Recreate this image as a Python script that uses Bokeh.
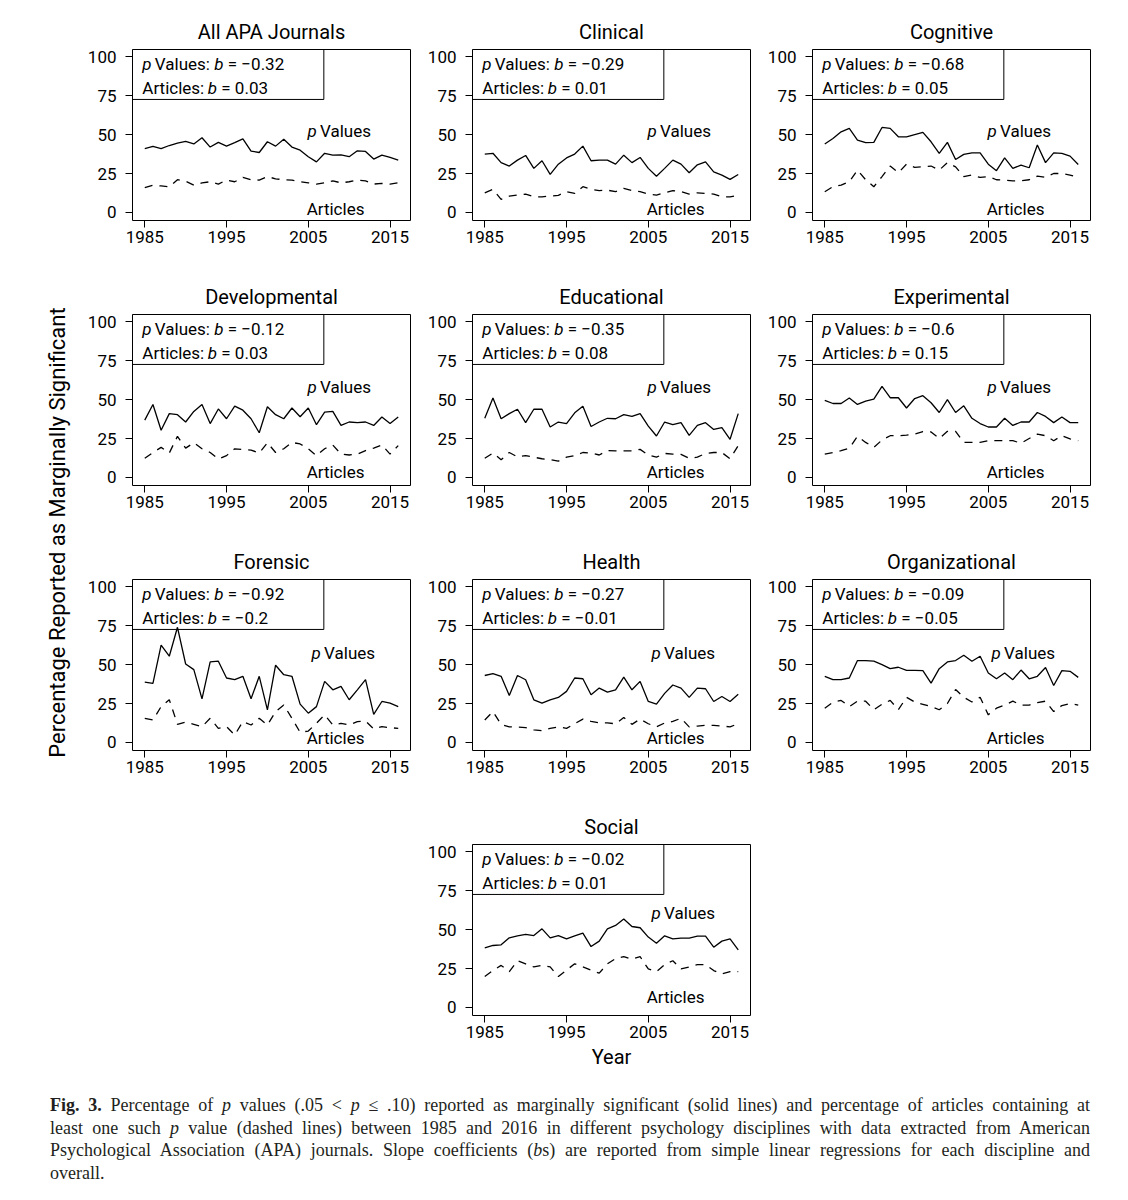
import math
from bokeh.plotting import figure
from bokeh.models import ColumnDataSource, FixedTicker, Label, BoxAnnotation, Range1d, Div, Spacer
from bokeh.layouts import row, column
from bokeh.embed import file_html
from bokeh.resources import INLINE

# ---------------- data ----------------
years = list(range(1985, 2017))

all_p = [41, 42.4, 41, 43, 44.5, 45.6, 44, 48, 42, 45, 42.6, 44.8, 47.3, 39.4, 38.5, 45.4,
         42.6, 47, 42, 40, 35.8, 32.5, 38, 36.8, 37, 35.8, 39.6, 39.2, 34.3, 36.8, 35.3, 33.6]
all_a = [16, 17.5, 17, 16.5, 21, 20, 17.5, 19, 19.7, 18.2, 20.8, 19.7, 22.5, 21, 20.8, 23,
         21.6, 21, 20.8, 19.7, 19, 18.2, 19, 20.3, 19, 19.7, 20.8, 20.3, 18.2, 18.6, 18.2, 19]

clin_p = [37.5, 38, 32, 29.8, 33.6, 36.6, 28.3, 33.2, 24.4, 31, 35, 37.5, 42.6, 33.2, 33.6, 33.6,
          31, 36.8, 32, 35.3, 28.3, 23.3, 28.3, 33.6, 31, 25.5, 30.6, 32.5, 26, 24, 21.2, 24.4]
clin_a = [12.6, 14.8, 8.4, 10.5, 11.1, 11.8, 10, 10, 10.5, 11, 13.3, 12.2, 16.5, 14.8, 14, 14.3,
          13.3, 15.4, 14, 13.3, 11.8, 11.1, 12.6, 14, 13.3, 11.8, 12.6, 12.2, 11.8, 10, 10, 11]

cog_p = [44, 47.5, 51.8, 54, 46.5, 44.8, 45, 54.6, 54, 48.6, 48.6, 50, 51.4, 45.4, 38, 45,
         34, 37.3, 38.3, 38.3, 31, 26.8, 35, 28.3, 30.4, 28.7, 43.3, 32, 38.3, 38, 36.2, 30.8]
cog_a = [13.3, 16.5, 17.5, 19.7, 27.2, 21, 16.5, 23, 29.8, 25.5, 31, 29, 29.3, 29.8, 27.2, 32,
         29.3, 23, 24, 22.5, 23, 21, 20.8, 20.3, 20.3, 21, 23.3, 22.5, 25, 25, 24, 22.5]

dev_p = [36.8, 46.9, 30.3, 41, 40.3, 35.6, 42.4, 46.9, 34.6, 44, 37.7, 45.8, 43.2, 37.7, 28.7, 45.4,
         40.3, 37.7, 44.6, 39, 44.6, 33.9, 42, 42.4, 33.4, 35.6, 35.2, 35.6, 33.4, 38.8, 34.6, 38.8]
dev_a = [12.3, 16, 19.3, 15.7, 26.4, 18.8, 22.3, 18.4, 16, 11.8, 14, 18.4, 18, 17.6, 15.7, 22.3,
         16, 18.4, 22.5, 21.5, 18.4, 14, 18.4, 20.8, 15, 14.4, 15, 17.2, 18.8, 20.8, 15, 20.4]

edu_p = [38, 51, 37.7, 41, 43.8, 35.2, 43.8, 43.8, 32.4, 35.6, 34.6, 41.5, 45.8, 32.7, 35.6, 38,
         37.7, 40.3, 39.2, 41, 33, 26.6, 35.6, 33.9, 35.2, 27, 33.4, 35.2, 30.8, 32, 24.5, 41]
edu_a = [12.3, 15.7, 11.4, 16, 13.2, 14, 13, 12, 11.4, 10.5, 13, 14, 16, 15.7, 14.4, 17.2,
         17, 17, 17, 18, 14.4, 13, 15.4, 15, 14.8, 12.3, 13, 15.4, 16, 16, 12, 20.4]

exp_p = [49.5, 47.5, 47.5, 51, 46.9, 49, 50.3, 58.5, 51.2, 51.2, 44.6, 50.7, 52.5, 48, 41.7, 50,
         41.7, 46, 38, 34.6, 32.4, 32.4, 38, 33.4, 35.6, 35.6, 41.7, 39.2, 35.2, 38.8, 35.2, 35.2]
exp_a = [15, 16, 17.2, 18.8, 26.4, 22.5, 19.3, 24, 26.8, 26.8, 27.2, 27.8, 29.5, 29.2, 25, 29.6,
         29.6, 22.5, 22.5, 22.5, 23.6, 23.6, 23.6, 23.6, 22, 25, 27.8, 26.8, 23.6, 26.8, 24.7, 23.6]

for_p = [38.8, 37.9, 62.5, 55.4, 74, 50.4, 46.8, 28, 51.7, 52.2, 41.4, 40.3, 42.5, 28, 42.5, 20.9,
         49.6, 43.5, 42.5, 24.6, 18.8, 23, 39.2, 33.8, 36, 27.4, 33.8, 40.3, 18, 26.3, 25.2, 23]
for_a = [15.5, 14.4, 23, 27.4, 11.6, 13, 11.6, 10.1, 15.5, 9, 10.1, 4.7, 13.4, 11.2, 15.5, 11.2,
         19.8, 24.1, 15.5, 6.5, 7.3, 12.3, 17.7, 11.2, 12.3, 11.2, 13.4, 13.8, 8.6, 10.1, 9.5, 9]

hea_p = [43, 44.2, 42.5, 30.2, 43, 40.3, 27.4, 25.2, 27.4, 28.9, 32.8, 41.4, 40.9, 30.6, 34.9, 32.3,
         33.8, 42, 33.8, 39.2, 26.3, 24.6, 31.5, 36.9, 34.9, 28.9, 34.9, 34.5, 26.3, 29.5, 26.3, 31]
hea_a = [14.4, 19.8, 11.6, 10, 9.9, 9.5, 8, 7.5, 9, 10, 9, 12, 15, 13.5, 12.5, 12.5,
         12, 16, 11.6, 15, 12, 10, 12.5, 13.5, 15.5, 10, 10.5, 11, 11, 10.5, 10, 12]

org_p = [42.5, 40.3, 40.3, 41.4, 52.6, 52.6, 52.2, 50, 47.4, 48.3, 46.3, 46.3, 46.1, 38.1, 47.4, 51.7,
         52.6, 56, 52.2, 55.4, 44.6, 40.9, 44.6, 40.3, 46.5, 40.9, 42.5, 48.1, 36.6, 46.1, 45.7, 41.8]
org_a = [22, 25.9, 27, 23, 26.5, 26.5, 21, 24.5, 27, 21, 29, 26, 24.5, 23, 21, 25,
         34, 29, 26, 29, 17.7, 22, 24, 26.5, 24, 24, 25.5, 26.5, 19.8, 23.7, 25, 24]

soc_p = [38.3, 39.8, 40.2, 44.7, 46, 46.9, 46.2, 50.5, 44.7, 46.2, 44.1, 46, 47.7, 39.1, 42.6, 50.5,
         52.7, 56.8, 52, 51.2, 45.2, 41.3, 46, 44.1, 44.5, 44.5, 45.8, 45.8, 38.7, 42.6, 44.1, 37]
soc_a = [19.8, 23.7, 27, 23, 30, 28, 26, 27, 26, 19.8, 24, 28, 26, 24, 22, 28,
         31.4, 32.7, 31, 32.6, 24.7, 23, 27.5, 30, 24.7, 26, 27.5, 27.5, 23.7, 21.5, 23, 23]

titles = ["All APA Journals", "Clinical", "Cognitive", "Developmental", "Educational",
          "Experimental", "Forensic", "Health", "Organizational", "Social"]
p_series = [all_p, clin_p, cog_p, dev_p, edu_p, exp_p, for_p, hea_p, org_p, soc_p]
a_series = [all_a, clin_a, cog_a, dev_a, edu_a, exp_a, for_a, hea_a, org_a, soc_a]
b_pvalues = ["\u22120.32", "\u22120.29", "\u22120.68", "\u22120.12", "\u22120.35",
             "\u22120.6", "\u22120.92", "\u22120.27", "\u22120.09", "\u22120.02"]
b_articles = ["0.03", "0.01", "0.05", "0.03", "0.08", "0.15", "\u22120.2", "\u22120.01",
              "\u22120.05", "0.01"]
x_ticks = [1985, 1995, 2005, 2015]
y_ticks = [0, 25, 50, 75, 100]

y_title = "Percentage Reported as Marginally Significant"
x_title = "Year"

caption_lines = [
    "<b>Fig. 3.</b> Percentage of <i>p</i> values (.05 &lt; <i>p</i> \u2264 .10) reported as marginally "
    "significant (solid lines) and percentage of articles containing at",
    "least one such <i>p</i> value (dashed lines) between 1985 and 2016 in different psychology "
    "disciplines with data extracted from American",
    "Psychological Association (APA) journals. Slope coefficients (<i>b</i>s) are reported from "
    "simple linear regressions for each discipline and",
    "overall.",
]

# ---------------- style / layout ----------------
FONT = "Roboto"
INK = "black"
X_RANGE = (1983.5, 2017.5)
Y_RANGE = (-5.2, 104.7)
FIG_W = 340
STRIP_H = 39                # title strip above each row of panels
PANEL_H, LAST_PANEL_H = 226, 231
B_LEFT, B_RIGHT, B_TOP = 54, 8, 2
FRAME_W = FIG_W - B_LEFT - B_RIGHT
FRAME_H = 171
TICK_SIZE = "17px"
TITLE_SIZE = "20px"
TEXT_SIZE = "17px"
TITLE_Y = 16                # title centre above strip bottom (px)

# label centre positions per grid row: (x, y) in data units
plabel_pos = [(2004.9, 52.2), (2004.9, 58.0), (2005.4, 57.5), (2005.4, 60.6)]
alabel_pos = [(2004.8, 2.5), (2004.8, 3.2), (2004.8, 2.6), (2004.8, 6.9)]
legend_x = 1984.7
legend_lines_y = (95.2, 80.2)
legend_box = dict(right=2006.9, bottom=72.6)


def add_pieces(p, x, y, pieces, size=TEXT_SIZE):
    for txt, ital, off in pieces:
        p.add_layout(Label(x=x, y=y, x_offset=off, text=txt, text_font=FONT,
                           text_font_size=size, text_color=INK,
                           text_font_style="italic" if ital else "normal",
                           text_baseline="middle", text_align="left"))


def blank_fig(width, height):
    f = figure(width=width, height=height, x_range=Range1d(0, 1), y_range=Range1d(0, 1),
               x_axis_type=None, y_axis_type=None, min_border=0, outline_line_color=None,
               toolbar_location=None, output_backend="svg")
    f.grid.visible = False
    return f


def title_strip(items):
    s = blank_fig(3 * FIG_W, STRIP_H)
    for col, name in items:
        s.add_layout(Label(x=col * FIG_W + B_LEFT + FRAME_W / 2, y=TITLE_Y,
                           x_units="screen", y_units="screen", text=name,
                           text_font=FONT, text_font_size=TITLE_SIZE, text_color=INK,
                           text_align="center", text_baseline="middle"))
    return s


def make_panel(i, grid_row, height, xlabel=None):
    bottom = height - B_TOP - FRAME_H
    p = figure(width=FIG_W, height=height,
               x_range=Range1d(*X_RANGE), y_range=Range1d(*Y_RANGE),
               output_backend="svg", toolbar_location=None,
               min_border_left=B_LEFT, min_border_right=B_RIGHT,
               min_border_top=B_TOP, min_border_bottom=bottom)
    p.grid.visible = False
    p.background_fill_color = "white"
    p.border_fill_color = "white"
    p.outline_line_color = INK
    p.outline_line_alpha = 1
    p.outline_line_width = 1

    src = ColumnDataSource(dict(year=years, pv=p_series[i], av=a_series[i]))
    p.line("year", "pv", source=src, line_color=INK, line_width=1.3)
    p.line("year", "av", source=src, line_color=INK, line_width=1.3, line_dash="8 7")

    p.xaxis.ticker = FixedTicker(ticks=x_ticks)
    p.yaxis.ticker = FixedTicker(ticks=y_ticks)
    p.xaxis.bounds = (x_ticks[0], x_ticks[-1])
    p.yaxis.bounds = (y_ticks[0], y_ticks[-1])
    for ax in p.axis:
        ax.axis_line_color = INK
        ax.axis_line_width = 1
        ax.major_tick_line_color = INK
        ax.major_tick_in = 0
        ax.major_tick_out = 7
        ax.minor_tick_line_color = None
        ax.major_label_text_font = FONT
        ax.major_label_text_font_size = TICK_SIZE
        ax.major_label_text_color = INK
    p.xaxis.major_label_standoff = 3
    p.yaxis.major_label_standoff = 9
    if xlabel:
        p.xaxis.axis_label = xlabel
        p.xaxis.axis_label_text_font = FONT
        p.xaxis.axis_label_text_font_size = TITLE_SIZE
        p.xaxis.axis_label_text_font_style = "normal"
        p.xaxis.axis_label_text_color = INK
        p.xaxis.axis_label_standoff = 4

    # legend-like box with slopes
    p.add_layout(BoxAnnotation(right=legend_box["right"], bottom=legend_box["bottom"],
                               fill_alpha=0, line_color=INK, line_alpha=1, line_width=1))
    add_pieces(p, legend_x, legend_lines_y[0],
               [("p", True, 0), ("Values:", False, 12.5), ("b", True, 72),
                ("= " + b_pvalues[i], False, 85.5)])
    add_pieces(p, legend_x, legend_lines_y[1],
               [("Articles:", False, 0), ("b", True, 65.5), ("= " + b_articles[i], False, 79)])

    # in-panel line labels
    px, py = plabel_pos[grid_row]
    add_pieces(p, px, py, [("p", True, 0), ("Values", False, 12.5)])
    ax_, ay_ = alabel_pos[grid_row]
    add_pieces(p, ax_, ay_, [("Articles", False, 0)])
    return p


panels = [make_panel(k, k // 3, PANEL_H) for k in range(9)]
social = make_panel(9, 3, LAST_PANEL_H, xlabel=x_title)

grid = column(
    title_strip([(0, titles[0]), (1, titles[1]), (2, titles[2])]),
    row(*panels[0:3]),
    title_strip([(0, titles[3]), (1, titles[4]), (2, titles[5])]),
    row(*panels[3:6]),
    title_strip([(0, titles[6]), (1, titles[7]), (2, titles[8])]),
    row(*panels[6:9]),
    title_strip([(1, titles[9])]),
    row(Spacer(width=FIG_W, height=LAST_PANEL_H), social,
        Spacer(width=FIG_W, height=LAST_PANEL_H)),
)

grid_h = 4 * STRIP_H + 3 * PANEL_H + LAST_PANEL_H
yt = blank_fig(70, grid_h)
yt.add_layout(Label(x=49, y=grid_h - 524, x_units="screen", y_units="screen",
                    angle=math.pi / 2, text=y_title, text_font=FONT,
                    text_font_size="22px", text_color=INK,
                    text_align="center", text_baseline="middle"))

cap_html = "".join(
    f'<div style="text-align:justify;text-align-last:justify;white-space:nowrap;">{ln}</div>'
    for ln in caption_lines[:-1]
) + f'<div style="white-space:nowrap;">{caption_lines[-1]}</div>'
caption = Div(
    text=('<div style="font-family:\'Liberation Serif\',serif;font-size:18px;'
          'line-height:22.5px;color:#231f20;width:1040px;">' + cap_html + '</div>'),
    width=1040, margin=(21, 0, 0, 42))

layout = column(row(yt, grid), caption, margin=(8, 8, 8, 8))

open("out.html", "w").write(file_html(layout, INLINE))
